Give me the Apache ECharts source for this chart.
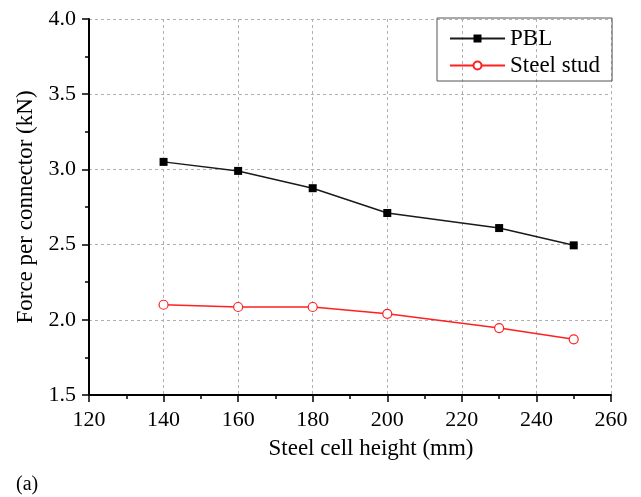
<!DOCTYPE html>
<html>
<head>
<meta charset="utf-8">
<script src="https://cdn.jsdelivr.net/npm/echarts@6/dist/echarts.min.js"></script>
<style>
html,body{margin:0;padding:0;background:#fff;}
#chart{width:641px;height:497px;}
</style>
</head>
<body>
<div id="chart"></div>
<script>
const heights = [140, 160, 180, 200, 230, 250];
const pblValues = [3.05, 2.99, 2.875, 2.71, 2.61, 2.495];
const studValues = [2.10, 2.085, 2.085, 2.04, 1.945, 1.87];
const seriesNames = ['PBL', 'Steel stud'];
const xTitle = 'Steel cell height (mm)';
const yTitle = 'Force per connector (kN)';
const panelLabel = '(a)';

const FONT = '"Liberation Serif", "Times New Roman", serif';
const chart = echarts.init(document.getElementById('chart'), null, {renderer: 'canvas'});

function pairs(xs, ys) { return xs.map((x, i) => [x, ys[i]]); }

const axisCommon = {
  axisLine: {show: true, lineStyle: {color: '#000', width: 2}},
  axisTick: {show: true, inside: false, length: 7, lineStyle: {color: '#000', width: 1.5}},
  minorTick: {show: true, splitNumber: 2, length: 4, lineStyle: {color: '#000', width: 1.5}},
  axisLabel: {color: '#000', fontFamily: FONT, fontSize: 22, margin: 14},
  splitLine: {show: true, lineStyle: {color: '#b0b0b0', type: [3, 3], width: 1}},
  nameTextStyle: {color: '#000', fontFamily: FONT, fontSize: 23}
};

chart.setOption({
  animation: false,
  backgroundColor: '#fff',
  grid: {left: 89, right: 30, top: 19, bottom: 102, containLabel: false},
  xAxis: Object.assign({}, axisCommon, {
    type: 'value', min: 120, max: 260, interval: 20,
    name: xTitle, nameLocation: 'middle', nameGap: 42,
    nameTextStyle: Object.assign({}, axisCommon.nameTextStyle, {padding: [0, 0, 0, 42]})
  }),
  yAxis: Object.assign({}, axisCommon, {
    type: 'value', min: 1.5, max: 4.0, interval: 0.5,
    name: yTitle, nameLocation: 'middle', nameGap: 47,
    axisLabel: Object.assign({}, axisCommon.axisLabel, {margin: 13, formatter: v => v.toFixed(1)})
  }),
  legend: {
    left: 437, top: 18,
    orient: 'vertical',
    borderColor: '#555', borderWidth: 1,
    padding: [9, 12, 4, 12],
    itemGap: 4, itemWidth: 55, itemHeight: 10,
    textStyle: {color: '#000', fontFamily: FONT, fontSize: 23},
    data: seriesNames
  },
  series: [
    {
      name: seriesNames[0], type: 'line', data: pairs(heights, pblValues),
      symbol: 'rect', symbolSize: 8,
      lineStyle: {color: '#1a1a1a', width: 1.5},
      itemStyle: {color: '#000', borderColor: '#000', borderWidth: 0}
    },
    {
      name: seriesNames[1], type: 'line', data: pairs(heights, studValues),
      symbol: 'circle', symbolSize: 9,
      lineStyle: {color: '#ff2020', width: 1.5},
      itemStyle: {color: '#fff', borderColor: '#ff2020', borderWidth: 1.2}
    }
  ],
  graphic: [{
    type: 'text', left: 16, top: 475,
    style: {text: panelLabel, fill: '#000', font: '20px ' + FONT}
  }]
});
</script>
</body>
</html>
